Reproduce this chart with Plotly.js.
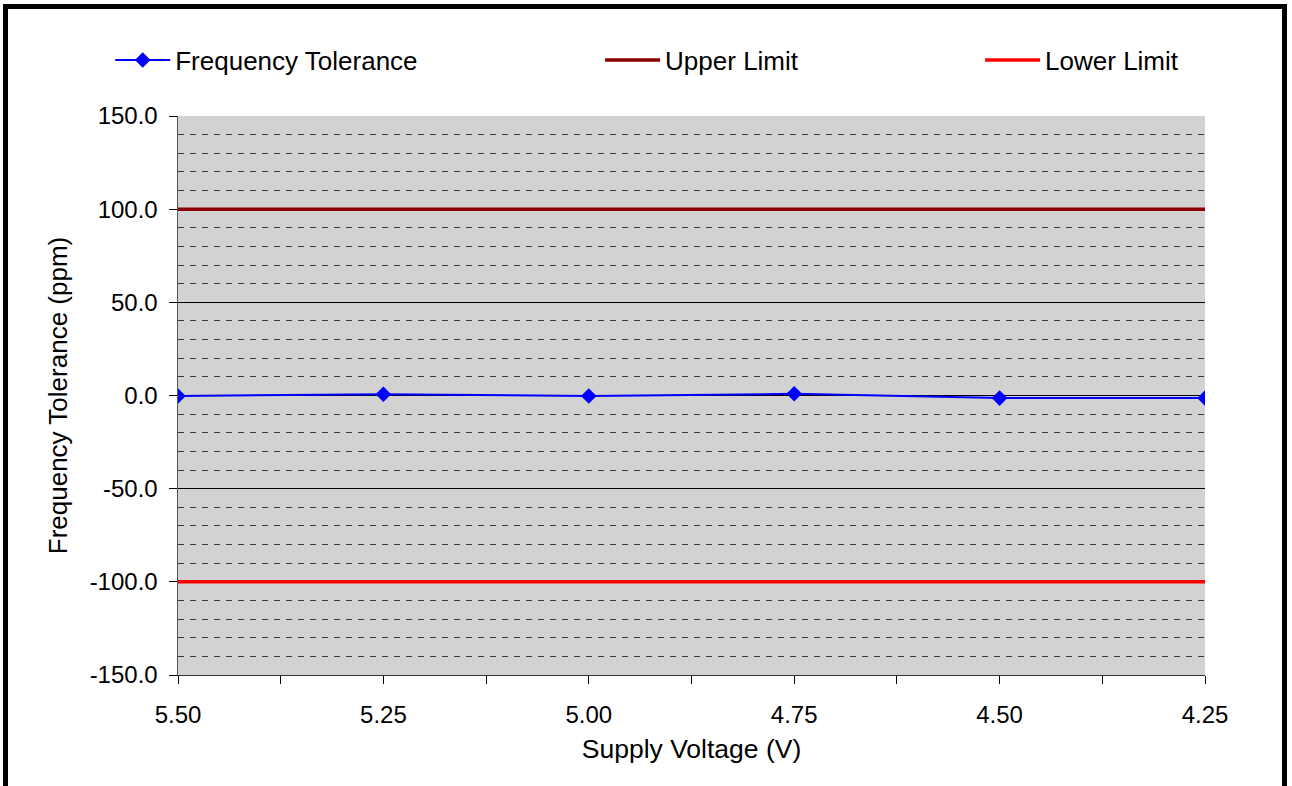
<!DOCTYPE html>
<html>
<head>
<meta charset="utf-8">
<script src="https://cdn.plot.ly/plotly-3.0.1.min.js"></script>
<style>
  html, body { margin: 0; padding: 0; background: #fff; overflow: hidden; }
  #chart { width: 1292px; height: 786px; position: absolute; left: 0; top: 0; }
  #frame { position: absolute; left: 3px; top: 4px; width: 1274px; height: 800px;
           border: 5px solid #000; pointer-events: none; }
</style>
</head>
<body>
<div id="chart"></div>
<div id="frame"></div>
<script>
// ---- data ----
const voltages = [5.50, 5.25, 5.00, 4.75, 4.50, 4.25];
const voltageLabels = ["5.50", "5.25", "5.00", "4.75", "4.50", "4.25"];
const freqTolerance = [-0.3, 0.7, -0.3, 0.9, -1.4, -1.4];
const upperLimit = [100, 100, 100, 100, 100, 100];
const lowerLimit = [-100, -100, -100, -100, -100, -100];
const yTickVals = [150, 100, 50, 0, -50, -100, -150];
const yTickText = ["150.0", "100.0", "50.0", "0.0", "-50.0", "-100.0", "-150.0"];

const FONT = "Liberation Sans, Arial, sans-serif";

const traces = [
  {
    x: voltages, y: freqTolerance, name: "Frequency Tolerance",
    type: "scatter", mode: "lines+markers",
    line: { color: "#0000ff", width: 2 },
    marker: { symbol: "diamond", size: 12, color: "#0000ff" },
    legend: "legend"
  },
  {
    x: voltages, y: upperLimit, name: "Upper Limit",
    type: "scatter", mode: "lines",
    line: { color: "#8b0000", width: 3.5 },
    legend: "legend2"
  },
  {
    x: voltages, y: lowerLimit, name: "Lower Limit",
    type: "scatter", mode: "lines",
    line: { color: "#ff0000", width: 3.5 },
    legend: "legend3"
  }
];

function legendAt(x) {
  return {
    x: x, y: 1.1, xanchor: "left", yanchor: "middle",
    orientation: "h", bgcolor: "rgba(0,0,0,0)",
    font: { family: FONT, size: 26, color: "#000" },
    itemwidth: 55
  };
}

const layout = {
  width: 1292, height: 786,
  margin: { l: 178, r: 87, t: 116, b: 111, autoexpand: false },
  paper_bgcolor: "#ffffff",
  plot_bgcolor: "#d2d2d2",
  font: { family: FONT, color: "#000" },
  showlegend: true,
  legend: legendAt(-0.066),
  legend2: legendAt(0.411),
  legend3: legendAt(0.781),
  xaxis: {
    range: [5.5, 4.25],
    tickmode: "array", tickvals: voltages, ticktext: voltageLabels,
    ticks: "outside", ticklen: 8, tickcolor: "#000", tickwidth: 1,
    minor: { tickmode: "linear", tick0: 4.25, dtick: 0.125, ticks: "outside", ticklen: 8, tickcolor: "#000", showgrid: false },
    showgrid: false, zeroline: false,
    showline: true, linecolor: "#333", linewidth: 1,
    tickfont: { family: FONT, size: 24, color: "#000" },
    ticklabelstandoff: 10,
    title: { text: "Supply Voltage (V)", font: { family: FONT, size: 26.5, color: "#000" }, standoff: 12 }
  },
  yaxis: {
    range: [-150, 150],
    tickmode: "array", tickvals: yTickVals, ticktext: yTickText,
    ticks: "outside", ticklen: 8, tickcolor: "#000", tickwidth: 1,
    showgrid: true, gridcolor: "#000", gridwidth: 1,
    zeroline: true, zerolinecolor: "#000", zerolinewidth: 1,
    minor: { tickmode: "linear", tick0: 0, dtick: 10, showgrid: true, griddash: "6px,6px", gridcolor: "#3a3a3a", gridwidth: 1, ticks: "" },
    showline: true, linecolor: "#555", linewidth: 1.5,
    tickfont: { family: FONT, size: 24, color: "#000" },
    ticklabelstandoff: 6,
    title: { text: "Frequency Tolerance (ppm)", font: { family: FONT, size: 26, color: "#000" }, standoff: 14 }
  }
};

Plotly.newPlot("chart", traces, layout, { staticPlot: true, displayModeBar: false });
</script>
</body>
</html>
